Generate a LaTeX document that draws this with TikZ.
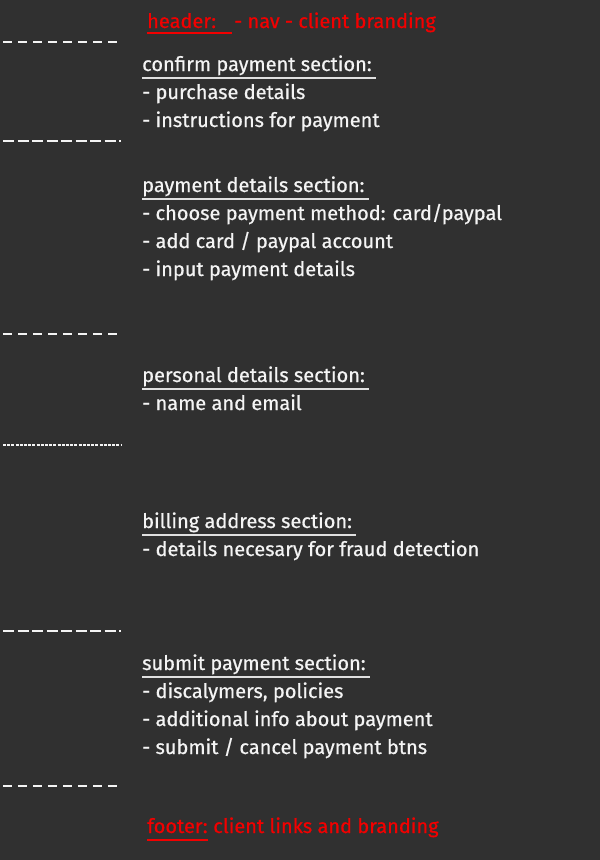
\documentclass[tikz,border=0pt]{standalone}
\usepackage{fontspec}
\setmainfont{Fira Sans}[FakeBold=0.6]
\definecolor{bgc}{HTML}{303030}
\definecolor{chalk}{HTML}{F4F4F4}
\definecolor{redink}{HTML}{F20000}
\begin{document}
\begin{tikzpicture}[x=1pt,y=-1pt,
  txt/.style={anchor=base west,inner sep=0pt,text=chalk,font=\fontsize{20}{28}\selectfont},
  rtxt/.style={txt,text=redink},
  ul/.style={draw=chalk!92!black,line width=1.4pt},
  rul/.style={draw=redink,line width=1.4pt},
  sep/.style={draw=chalk,line width=2pt,dash pattern=on 9pt off 6pt},
  sepb/.style={draw=chalk,line width=2pt,dash pattern=on 11pt off 3.5pt},
  sepc/.style={draw=chalk,line width=2pt,dash pattern=on 3pt off 1.2pt}]
\fill[bgc] (0,0) rectangle (600,860);
\useasboundingbox (0,0) rectangle (600,860);
% separators
\coordinate (s1a) at (3,42);  \coordinate (s1b) at (118,42);
\coordinate (s2a) at (3,141); \coordinate (s2b) at (121,141);
\coordinate (s3a) at (3,334); \coordinate (s3b) at (118,334);
\coordinate (s4a) at (3,445); \coordinate (s4b) at (121,445);
\coordinate (s5a) at (3,631); \coordinate (s5b) at (121,631);
\coordinate (s6a) at (3,786); \coordinate (s6b) at (121,786);
\draw[sep]  (s1a) -- (s1b);
\draw[sepb] (s2a) -- (s2b);
\draw[sep]  (s3a) -- (s3b);
\draw[sepc] (s4a) -- (s4b);
\draw[sepb] (s5a) -- (s5b);
\draw[sep]  (s6a) -- (s6b);
% header
\node[rtxt] (hdr) at (147,28) {header:};
\node[rtxt] (hdrb) at (234,28) {- nav - client branding};
\draw[rul] ([yshift=-5pt]hdr.base west) -- ([xshift=-2pt,yshift=-5pt]hdrb.base west);
% confirm
\node[txt] (h1) at (142,71) {confirm payment section:};
\draw[ul] ([yshift=-7pt]h1.base west) -- ([xshift=4pt,yshift=-7pt]h1.base east);
\node[txt] (i11) at (142,99) {- purchase details};
\node[txt] (i12) at (142,127) {- instructions for payment};
% payment details
\node[txt] (h2) at (142,192) {payment details section:};
\draw[ul] ([yshift=-7pt]h2.base west) -- ([xshift=4pt,yshift=-7pt]h2.base east);
\node[txt] (i21) at (142,220) {- choose payment method: card/paypal};
\node[txt] (i22) at (142,248) {- add card / paypal account};
\node[txt] (i23) at (142,276) {- input payment details};
% personal
\node[txt] (h3) at (142,382) {personal details section:};
\draw[ul] ([yshift=-7pt]h3.base west) -- ([xshift=4pt,yshift=-7pt]h3.base east);
\node[txt] (i31) at (142,410) {- name and email};
% billing
\node[txt] (h4) at (142,528) {billing address section:};
\draw[ul] ([yshift=-7pt]h4.base west) -- ([xshift=4pt,yshift=-7pt]h4.base east);
\node[txt] (i41) at (142,556) {- details necesary for fraud detection};
% submit
\node[txt] (h5) at (142,670) {submit payment section:};
\draw[ul] ([yshift=-7pt]h5.base west) -- ([xshift=4pt,yshift=-7pt]h5.base east);
\node[txt] (i51) at (142,698) {- discalymers, policies};
\node[txt] (i52) at (142,726) {- additional info about payment};
\node[txt] (i53) at (142,754) {- submit / cancel payment btns};
% footer
\node[rtxt] (ftr) at (147,833) {footer:};
\node[rtxt] (ftrb) at (ftr.base east) {\ client links and branding};
\draw[rul] ([yshift=-7pt]ftr.base west) -- ([yshift=-7pt]ftr.base east);
\end{tikzpicture}
\end{document}
